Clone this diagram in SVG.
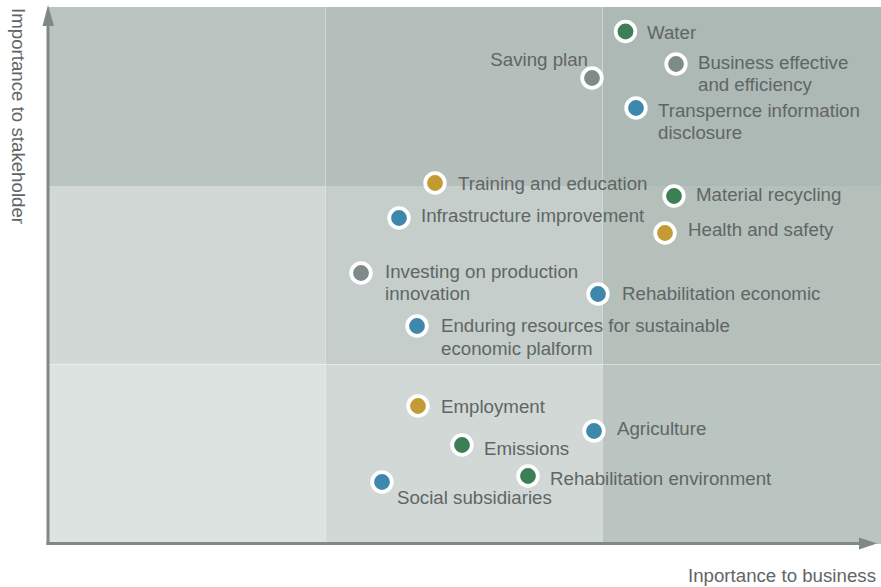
<svg xmlns="http://www.w3.org/2000/svg" width="881" height="587" viewBox="0 0 881 587">
<style>
text{font-family:"Liberation Sans",Arial,sans-serif;font-size:18.7px;fill:#5f6665}
.dot{stroke:#ffffff;stroke-width:3.8}
.g{fill:#3d7f54}.y{fill:#c49a34}.b{fill:#3e88ad}.s{fill:#7f8b8a}
.sep{stroke:#ffffff;stroke-opacity:0.4;stroke-width:1}
.axis{stroke:#7d8a88;stroke-width:3;fill:none}
</style>
<rect width="881" height="587" fill="#ffffff"/>
<g id="grid">
<rect x="48" y="7" width="277" height="179" fill="#bac5c1"/>
<rect x="325" y="7" width="277" height="179" fill="#b4beba"/>
<rect x="602" y="7" width="279" height="179" fill="#adb9b4"/>
<rect x="48" y="186" width="277" height="178" fill="#d1d8d5"/>
<rect x="325" y="186" width="277" height="178" fill="#c5cecb"/>
<rect x="602" y="186" width="279" height="178" fill="#b5c0bb"/>
<rect x="48" y="364" width="277" height="180" fill="#dde3e1"/>
<rect x="325" y="364" width="277" height="180" fill="#d1d8d6"/>
<rect x="602" y="364" width="279" height="180" fill="#bac4c0"/>
<line class="sep" x1="325.5" y1="7" x2="325.5" y2="543"/>
<line class="sep" x1="602.5" y1="7" x2="602.5" y2="543"/>
<line class="sep" x1="48" y1="364.5" x2="881" y2="364.5"/>
</g>
<g id="axes">
<line class="axis" x1="48" y1="545" x2="48" y2="22"/>
<polygon points="48,5 42.5,26 54,26" fill="#7d8a88"/>
<line class="axis" x1="46.5" y1="543.5" x2="862" y2="543.5" stroke-width="2.6"/>
<polygon points="877,543.5 859,537.5 859,549.5" fill="#7d8a88"/>
<text transform="translate(12,8) rotate(90)">Importance to stakeholder</text>
<text x="876" y="581.5" text-anchor="end">Inportance to business</text>
</g>
<g id="water"><circle class="dot g" cx="625.5" cy="31.5" r="9.8"/><text x="647" y="38.5">Water</text></g>
<g id="saving-plan"><circle class="dot s" cx="592" cy="78" r="9.8"/><text x="588" y="65.5" text-anchor="end">Saving plan</text></g>
<g id="business-effective"><circle class="dot s" cx="676" cy="64" r="9.8"/><text x="698" y="68.5">Business effective</text><text x="698" y="90.5">and efficiency</text></g>
<g id="transparence"><circle class="dot b" cx="636" cy="108" r="9.8"/><text x="658" y="116.5">Transpernce information</text><text x="658" y="138.5">disclosure</text></g>
<g id="training"><circle class="dot y" cx="435" cy="183" r="9.8"/><text x="458" y="189.5">Training and education</text></g>
<g id="material-recycling"><circle class="dot g" cx="674" cy="196" r="9.8"/><text x="696" y="200.5">Material recycling</text></g>
<g id="infrastructure"><circle class="dot b" cx="399" cy="218" r="9.8"/><text x="421" y="221.5">Infrastructure improvement</text></g>
<g id="health-safety"><circle class="dot y" cx="665" cy="233" r="9.8"/><text x="688" y="235.5">Health and safety</text></g>
<g id="investing"><circle class="dot s" cx="361" cy="273" r="9.8"/><text x="385" y="277.5">Investing on production</text><text x="385" y="299.5">innovation</text></g>
<g id="rehab-economic"><circle class="dot b" cx="598" cy="294" r="9.8"/><text x="622" y="299.5">Rehabilitation economic</text></g>
<g id="enduring"><circle class="dot b" cx="417" cy="326" r="9.8"/><text x="441" y="331.5">Enduring resources for sustainable</text><text x="441" y="354.5">economic plalform</text></g>
<g id="employment"><circle class="dot y" cx="418" cy="406" r="9.8"/><text x="441" y="412.5">Employment</text></g>
<g id="agriculture"><circle class="dot b" cx="594" cy="431" r="9.8"/><text x="617" y="434.5">Agriculture</text></g>
<g id="emissions"><circle class="dot g" cx="462" cy="445" r="9.8"/><text x="484" y="454.5">Emissions</text></g>
<g id="rehab-environment"><circle class="dot g" cx="528" cy="476" r="9.8"/><text x="550" y="484.5">Rehabilitation environment</text></g>
<g id="social-subsidiaries"><circle class="dot b" cx="382" cy="482" r="9.8"/><text x="397" y="503.5">Social subsidiaries</text></g>
<g id="connectors"></g>
</svg>
